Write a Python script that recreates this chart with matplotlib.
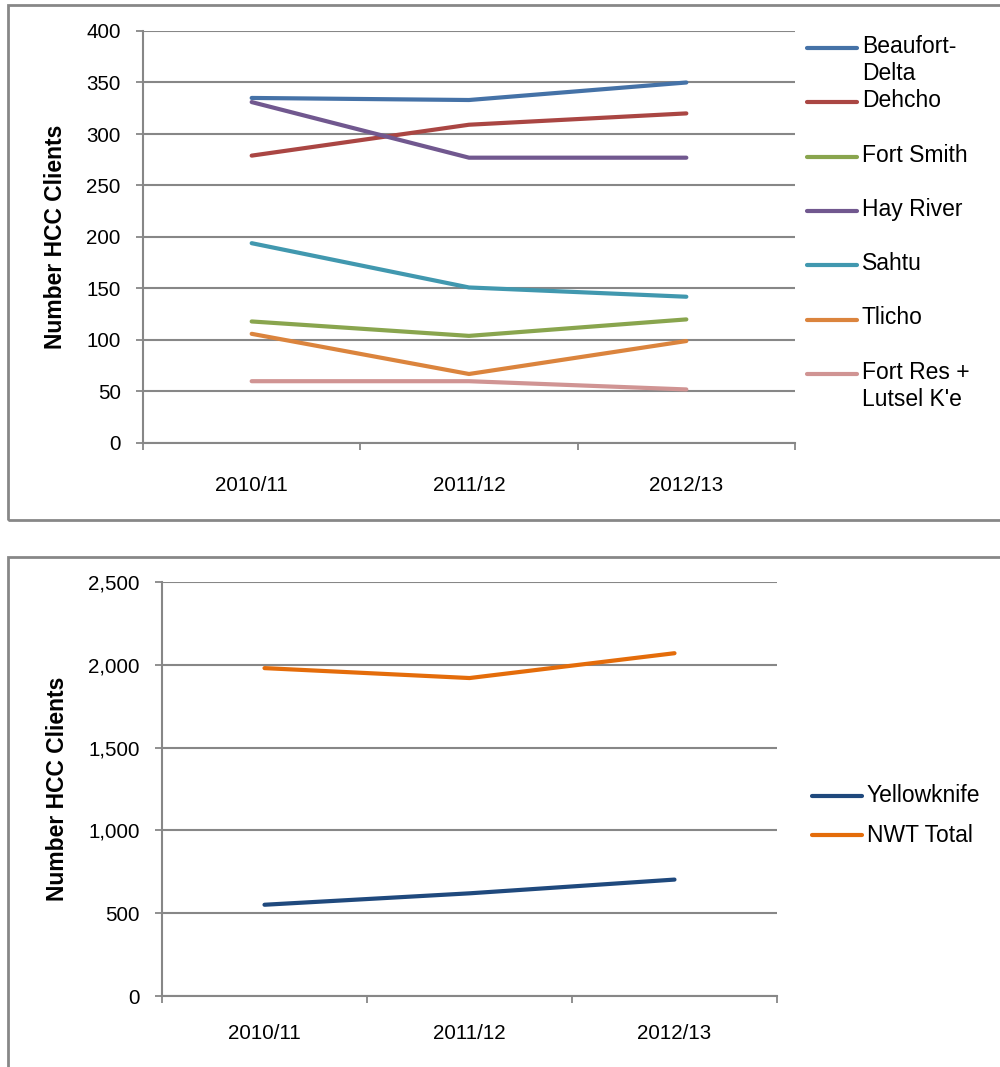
import matplotlib
matplotlib.use('Agg')
import matplotlib.pyplot as plt
from matplotlib.lines import Line2D
from matplotlib.patches import Rectangle
from matplotlib.ticker import FuncFormatter, FixedLocator

plt.rcParams['font.family'] = ['Liberation Sans', 'DejaVu Sans']

# data
years = ["2010/11", "2011/12", "2012/13"]

regions = ["Beaufort-\nDelta", "Dehcho", "Fort Smith", "Hay River", "Sahtu", "Tlicho",
           "Fort Res +\nLutsel K'e"]
beaufort_delta = [335, 333, 350]
dehcho = [279, 309, 320]
fort_smith = [118, 104, 120]
hay_river = [331, 277, 277]
sahtu = [194, 151, 142]
tlicho = [106, 67, 99]
fort_res_lutsel = [60, 60, 52]

totals_names = ["Yellowknife", "NWT Total"]
yellowknife = [551, 620, 703]
nwt_total = [1980, 1920, 2070]

top_series = [beaufort_delta, dehcho, fort_smith, hay_river, sahtu, tlicho, fort_res_lutsel]
top_colors = ['#4572A7', '#AA4643', '#89A54E', '#71588F', '#4198AF', '#DB843D', '#D09493']
bot_series = [yellowknife, nwt_total]
bot_colors = ['#1F497D', '#E46C0A']

GRID = '#878787'
W, H = 1000, 1067
TICK_FS = 14.8
LEG_FS = 16.5

fig = plt.figure(figsize=(W / 100, H / 100), dpi=100)


def px(x, y):
    # pixel coords (from top-left) -> figure fraction
    return x / W, 1 - y / H


def style_axis(ax, ymax, ystep, label_pad_x, fmt=None):
    ax.set_xlim(-0.5, len(years) - 0.5)
    ax.set_ylim(0, ymax)
    ax.set_yticks(range(0, ymax + 1, ystep))
    if fmt:
        ax.yaxis.set_major_formatter(FuncFormatter(fmt))
    ax.set_xticks(range(len(years)))
    ax.set_xticklabels(years)
    ax.xaxis.set_minor_locator(FixedLocator([i - 0.5 for i in range(len(years) + 1)]))
    ax.tick_params(axis='x', which='major', length=0, pad=label_pad_x, labelsize=TICK_FS)
    ax.tick_params(axis='x', which='minor', length=5, width=1.3, color=GRID, direction='out')
    ax.tick_params(axis='y', length=5, width=1.3, color=GRID, pad=11, labelsize=TICK_FS)
    for s in ['top', 'right']:
        ax.spines[s].set_visible(False)
    for s in ['left', 'bottom']:
        ax.spines[s].set_color(GRID)
        ax.spines[s].set_linewidth(1.5)
    ax.grid(axis='y', color=GRID, linewidth=1.5)
    ax.set_axisbelow(True)
    ax.set_ylabel('Number HCC Clients', fontsize=16.5, fontweight='bold')
    ax.patch.set_alpha(0)


# ---- panel frames ----
fig.add_artist(Rectangle(px(8, 520), (1100 - 8) / W, (520 - 5) / H, transform=fig.transFigure,
                         fill=False, edgecolor=GRID, linewidth=2, clip_on=False))
fig.add_artist(Rectangle(px(8, 1200), (1100 - 8) / W, (1200 - 557) / H, transform=fig.transFigure,
                         fill=False, edgecolor=GRID, linewidth=2, clip_on=False))

# ---- top chart ----
ax1 = fig.add_axes([0.143, 1 - 443 / H, 0.652, (443 - 31) / H])
for vals, c in zip(top_series, top_colors):
    ax1.plot(range(len(years)), vals, color=c, linewidth=3, solid_capstyle='round')
style_axis(ax1, 400, 50, 24)
ax1.yaxis.set_label_coords(-0.116, 0.5)

for i, (name, c) in enumerate(zip(regions, top_colors)):
    y = 48 + i * 54.3
    fig.add_artist(Line2D([807 / W, 857 / W], [1 - y / H] * 2, color=c, linewidth=3,
                          solid_capstyle='round', transform=fig.transFigure))
    fig.text(862 / W, 1 - (y - 13) / H, name, fontsize=LEG_FS, va='top', ha='left',
             linespacing=1.25)

# ---- bottom chart ----
ax2 = fig.add_axes([0.162, 1 - 996 / H, 0.615, (996 - 582) / H])
for vals, c in zip(bot_series, bot_colors):
    ax2.plot(range(len(years)), vals, color=c, linewidth=3, solid_capstyle='round')
style_axis(ax2, 2500, 500, 20, fmt=lambda v, p: f'{int(v):,}')
ax2.yaxis.set_label_coords(-0.152, 0.5)

for i, (name, c) in enumerate(zip(totals_names, bot_colors)):
    y = 796 + i * 39
    fig.add_artist(Line2D([812 / W, 862 / W], [1 - y / H] * 2, color=c, linewidth=3,
                          solid_capstyle='round', transform=fig.transFigure))
    fig.text(867 / W, 1 - y / H, name, fontsize=LEG_FS, va='center', ha='left')

fig.savefig('out.png', dpi=100)
